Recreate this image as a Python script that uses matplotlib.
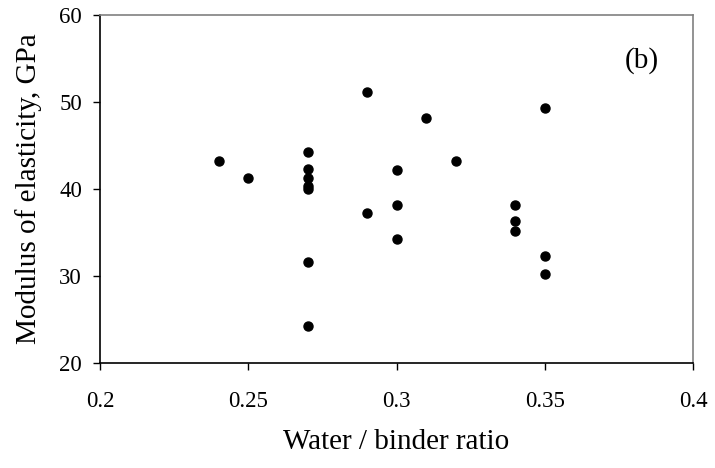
import matplotlib.pyplot as plt

plt.rcParams['font.family'] = ['Liberation Serif', 'DejaVu Serif']

# water/binder ratio and modulus of elasticity (GPa)
wb = [0.24, 0.25,
      0.27, 0.27, 0.27, 0.27, 0.27, 0.27, 0.27,
      0.29, 0.29,
      0.30, 0.30, 0.30,
      0.31, 0.32,
      0.34, 0.34, 0.34,
      0.35, 0.35, 0.35]
E = [43.2, 41.3,
     44.2, 42.3, 41.3, 40.3, 40.0, 31.6, 24.25,
     51.2, 37.2,
     42.2, 38.2, 34.2,
     48.2, 43.2,
     38.2, 36.3, 35.2,
     49.3, 32.3, 30.2]

xticks = [0.2, 0.25, 0.3, 0.35, 0.4]
xlabels = ['0.2', '0.25', '0.3', '0.35', '0.4']
yticks = [20, 30, 40, 50, 60]

fig = plt.figure(figsize=(7.15, 4.68), dpi=100)
ax = fig.add_axes([100/715, 105/468, 593/715, 348/468])

ax.plot(wb, E, 'o', color='black', markersize=6.5, linestyle='none')

ax.set_xlim(0.2, 0.4)
ax.set_ylim(20, 60)
ax.set_xticks(xticks)
ax.set_xticklabels(xlabels)
ax.set_yticks(yticks)
ax.tick_params(direction='out', length=5, width=1, labelsize=16.5)
ax.tick_params(axis='x', pad=15)
ax.tick_params(axis='y', pad=8)

ax.spines['left'].set_color('black')
ax.spines['bottom'].set_color('black')
ax.spines['top'].set_color('#808080')
ax.spines['right'].set_color('#808080')
for s in ax.spines.values():
    s.set_linewidth(1.2)

ax.set_xlabel('Water / binder ratio', fontsize=21, va='center')
ax.xaxis.set_label_coords(0.5, -0.227)
ax.set_ylabel('Modulus of elasticity, GPa', fontsize=21, va='center')
ax.yaxis.set_label_coords(-0.121, 0.5)

ax.text(0.913, 0.868, '(b)', transform=ax.transAxes, fontsize=21,
        ha='center', va='center')

plt.savefig('out.png', dpi=100)
